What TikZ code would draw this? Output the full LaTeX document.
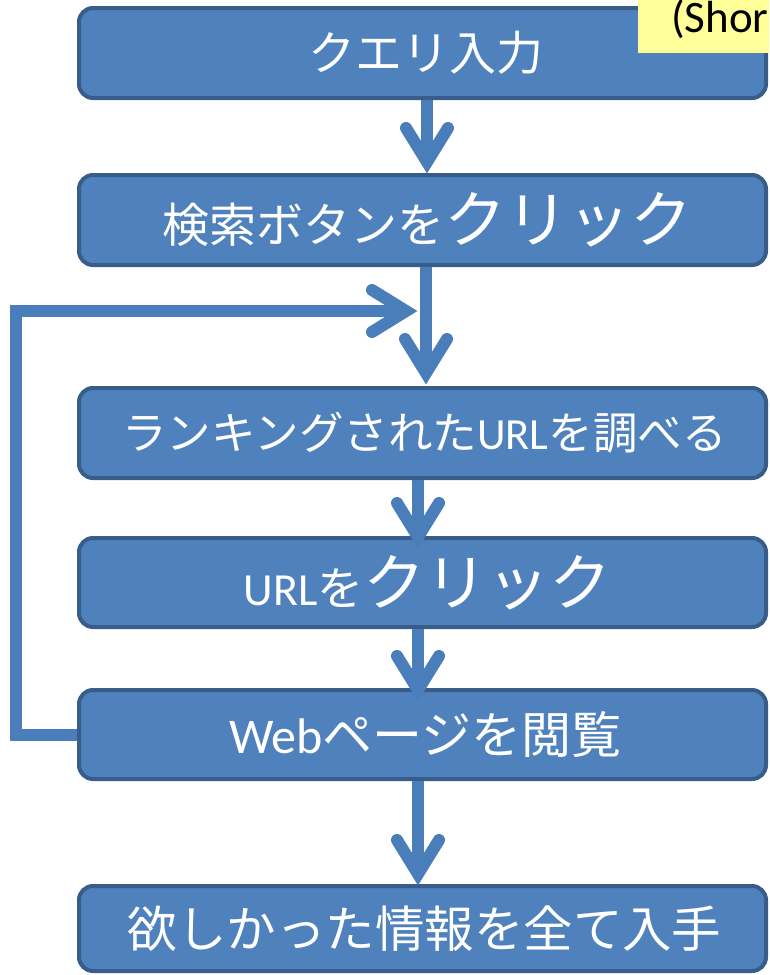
\documentclass[tikz,border=0pt]{standalone}
\usepackage{fontspec}
\setmainfont{Carlito}
\newfontfamily\jp{Noto Sans CJK JP}
\usetikzlibrary{calc}
\definecolor{boxfill}{HTML}{4F81BD}
\definecolor{boxline}{HTML}{385D8A}
\definecolor{arrowc}{HTML}{4A7EBB}
\definecolor{notefill}{HTML}{FFFF99}
\tikzset{
  box/.style={draw=boxline, fill=boxfill, line width=4pt, rounded corners=14pt,
    minimum width=687pt, inner sep=0pt, text=white},
  flow/.style={draw=arrowc, line width=12pt},
  head/.style={draw=arrowc, line width=12pt, line cap=round, line join=miter},
  notebox/.style={fill=notefill, draw=none},
}
\begin{document}
\begin{tikzpicture}[x=1pt, y=-1pt]
\useasboundingbox (0,0) rectangle (769,975);
\clip (0,0) rectangle (769,975);

% boxes
\node[box, minimum height=90pt] (b1) at (422.5,53)
  {\hspace*{6pt}\fontsize{47pt}{50pt}\selectfont\jp クエリ入力};
\node[box, minimum height=90pt] (b2) at (422.5,220)
  {\hspace*{10pt}\fontsize{47pt}{52pt}\selectfont\jp 検索ボタンを\fontsize{62pt}{66pt}\selectfont クリック};
\node[box, minimum height=90pt] (b3) at (422.5,433)
  {\hspace*{4pt}\fontsize{44.5pt}{48pt}\selectfont{\jp ランキングされた}URL{\jp を調べる}};
\node[box, minimum height=89pt] (b4) at (422.5,582.5)
  {\hspace*{10pt}\fontsize{46pt}{50pt}\selectfont URL{\jp を}{\fontsize{62pt}{66pt}\selectfont\jp クリック}};
\node[box, minimum height=89pt] (b5) at (422.5,734.5)
  {\hspace*{6pt}\fontsize{50pt}{54pt}\selectfont Web{\jp ページを閲覧}};
\node[box, minimum height=85pt] (b6) at (422.5,928.5)
  {\hspace*{4pt}\fontsize{49.5pt}{54pt}\selectfont\jp 欲しかった情報を全て入手};

% note (cut off at the right edge)
\path[notebox] (638,-5) rectangle (775,53);
\node[anchor=base west, inner sep=0pt, text=black] (note) at (671,32)
  {\fontsize{45pt}{48pt}\selectfont (Shor};

% arrow vertices
\coordinate (v1) at (427,162);
\coordinate (v2) at (426,373);
\coordinate (v3) at (418,537);
\coordinate (v4) at (418,690);
\coordinate (v5) at (418,874);
\coordinate (vL) at (406,311);

% shafts
\draw[flow] (b1.south -| v1) -- (v1);
\draw[flow] (b2.south -| v2) -- (v2);
\draw[flow] (b3.south -| v3) -- (v3);
\draw[flow] (b4.south -| v4) -- (v4);
\draw[flow] (b5.south -| v5) -- (v5);
\draw[flow, line join=miter] (b5.west) -- ++(-61,0) |- (vL);

% heads
\foreach \v in {v1,v2,v3,v4,v5}{
  \draw[head] ($(\v)+(-21,-34)$) -- (\v) -- ($(\v)+(21,-34)$);
}
\draw[head] ($(vL)+(-34,-21)$) -- (vL) -- ($(vL)+(-34,21)$);
\end{tikzpicture}
\end{document}
